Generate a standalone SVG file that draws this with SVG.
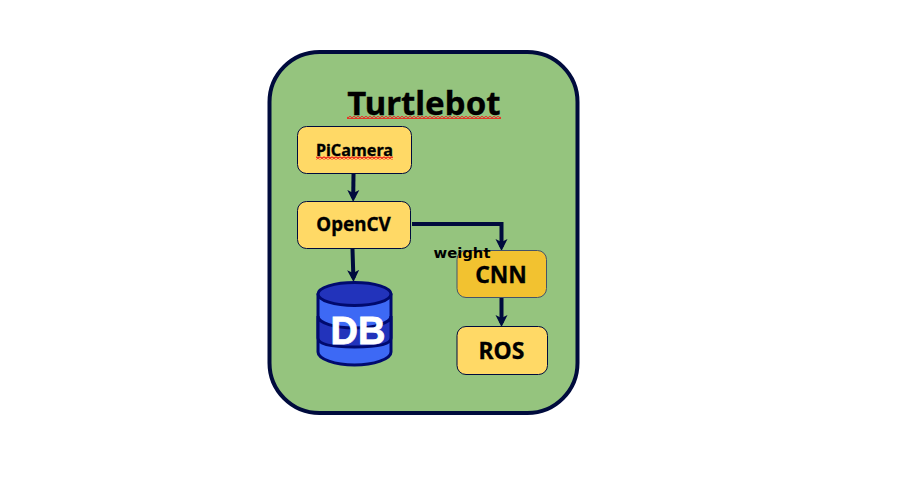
<svg xmlns="http://www.w3.org/2000/svg" width="900" height="489" viewBox="0 0 900 489">
<style>
.box{stroke:#000b3d;stroke-width:1}
.t{font-family:"Noto Sans","Open Sans",sans-serif;font-weight:700;text-anchor:middle;fill:#000;stroke:#000;stroke-width:.3}
.c{fill:none;stroke:#000b3d;stroke-width:4}
.db{stroke:#000a6e;stroke-width:3}
</style>
<defs>
<marker id="a" markerUnits="userSpaceOnUse" markerWidth="13" markerHeight="13" refX="8" refY="6.500" orient="auto"><path d="M0 0.500L12 6.500L0 12.500L3 6.500Z" fill="#000b3d"/></marker>
<pattern id="w" patternUnits="userSpaceOnUse" width="4" height="3"><path d="M-1 1.500L0 .5L2 2.500L4 .5L5 1.500" fill="none" stroke="#f0201c" stroke-width="1.300"/></pattern>
</defs>
<rect width="900" height="489" fill="#fff"/>
<g id="turtlebot">
<rect x="269.500" y="52" width="308" height="361" rx="50" ry="50" fill="#95c47e" stroke="#000b3d" stroke-width="4"/>
<text class="t" x="424" y="115" font-size="33">Turtlebot</text>
<rect x="347" y="116" width="154" height="3" fill="url(#w)"/>
</g>
<g id="connectors">
<path class="c" marker-end="url(#a)" d="M353.500 174L353.200 198"/>
<path class="c" marker-end="url(#a)" d="M352.500 249L353.400 278"/>
<path class="c" marker-end="url(#a)" d="M412 224H501.500V247"/>
<path class="c" marker-end="url(#a)" d="M501.500 297V323"/>
</g>
<g id="picamera">
<rect class="box" x="297.500" y="126.500" width="114" height="47" rx="9" fill="#ffd966"/>
<text class="t" x="354.500" y="156" font-size="16.200">PiCamera</text>
<rect x="316" y="156.500" width="77" height="3" fill="url(#w)"/>
</g>
<g id="opencv">
<rect class="box" x="297.500" y="201.500" width="113" height="47" rx="9" fill="#ffd966"/>
<text class="t" x="353.500" y="231" font-size="18.800">OpenCV</text>
</g>
<g id="db">
<path class="db" d="M318 295V352C318 359 335 365 354.500 365S391 359 391 352V295Z" fill="#3d69f5"/>
<path class="db" d="M318 316C318 323 335 328 354.500 328S391 323 391 316V338C391 345 374 347 354.500 347S318 345 318 338Z" fill="#2233bb"/>
<ellipse class="db" cx="354.500" cy="294" rx="36.500" ry="11.500" fill="#2233bb"/>
<text x="358" y="344" font-family="'Liberation Sans',Arial,sans-serif" font-weight="700" font-size="38" text-anchor="middle" fill="#fff" stroke="#fff" stroke-width=".8">DB</text>
</g>
<g id="cnn">
<rect x="457" y="250.500" width="89.500" height="47" rx="9" fill="#f2c230" stroke="#44546a" stroke-width="1"/>
<text class="t" x="501" y="283" font-size="22.800">CNN</text>
</g>
<g id="ros">
<rect class="box" x="457" y="326.500" width="90.500" height="48" rx="9" fill="#ffd966"/>
<text class="t" x="501.500" y="359" font-size="23">ROS</text>
</g>
<text x="462" y="258" font-family="'DejaVu Sans',sans-serif" font-weight="700" font-size="14.800" text-anchor="middle" fill="#000">weight</text>
</svg>
